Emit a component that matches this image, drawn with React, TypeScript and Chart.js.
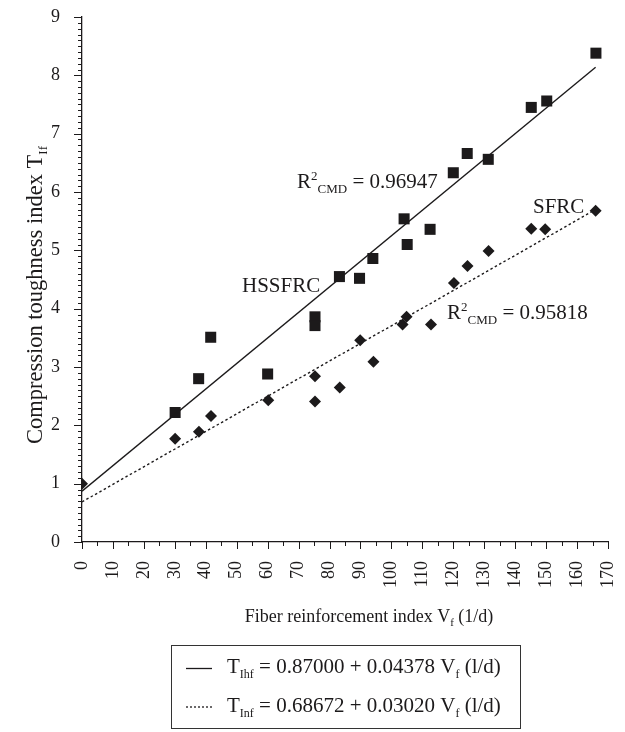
import React, { useEffect, useRef } from "react";
import { Chart, registerables } from "chart.js";

Chart.register(...registerables);

// HSSFRC (squares)
const hssX = [30.1, 37.7, 41.6, 60.0, 75.3, 75.3, 83.2, 89.7, 94.0, 104.1, 105.1, 112.5, 120.0, 124.5, 131.3, 145.2, 150.2, 166.1];
const hssY = [2.22, 2.80, 3.51, 2.88, 3.86, 3.71, 4.55, 4.52, 4.86, 5.54, 5.10, 5.36, 6.33, 6.66, 6.56, 7.45, 7.56, 8.38];
// SFRC (diamonds)
const sfrcX = [0, 30.1, 37.8, 41.7, 60.2, 75.3, 75.3, 83.3, 89.9, 94.2, 103.6, 104.9, 112.8, 120.2, 124.6, 131.4, 145.2, 149.7, 166.0];
const sfrcY = [1.0, 1.77, 1.89, 2.16, 2.43, 2.84, 2.41, 2.65, 3.46, 3.09, 3.73, 3.86, 3.73, 4.44, 4.73, 4.99, 5.37, 5.36, 5.68];
// regression lines: [intercept, slope]
const fitX = [0, 166];
const hssCoef = [0.87, 0.04378];
const sfrcCoef = [0.68672, 0.0302];

const xTicks = [0, 10, 20, 30, 40, 50, 60, 70, 80, 90, 100, 110, 120, 130, 140, 150, 160, 170];
const yTicks = [0, 1, 2, 3, 4, 5, 6, 7, 8, 9];

const INK = "#1c1a1b";
const SERIF = '"Liberation Serif", "Times New Roman", serif';

type Part = [string, number, number];

function richWidth(ctx: CanvasRenderingContext2D, parts: Part[]) {
  let w = 0;
  for (const [t, s] of parts) {
    ctx.font = `${s}px ${SERIF}`;
    w += ctx.measureText(t).width;
  }
  return w;
}

function drawRich(ctx: CanvasRenderingContext2D, x: number, y: number, parts: Part[]) {
  let cx = x;
  ctx.textBaseline = "alphabetic";
  ctx.textAlign = "left";
  for (const [t, s, dy] of parts) {
    ctx.font = `${s}px ${SERIF}`;
    ctx.fillText(t, cx, y + dy);
    cx += ctx.measureText(t).width;
  }
}

const decorPlugin = {
  id: "decor",
  afterDraw(chart: any) {
    const ctx: CanvasRenderingContext2D = chart.ctx;
    const xs = chart.scales.x;
    const ys = chart.scales.y;
    const { left, bottom } = chart.chartArea;
    ctx.save();
    ctx.strokeStyle = INK;
    ctx.fillStyle = INK;
    ctx.lineWidth = 1;
    // x ticks
    for (let v = 0; v <= 170; v += 5) {
      const px = Math.round(xs.getPixelForValue(v)) + 0.5;
      const len = v % 10 === 0 ? 7 : 4;
      ctx.beginPath();
      ctx.moveTo(px, bottom);
      ctx.lineTo(px, bottom + len);
      ctx.stroke();
    }
    // y ticks
    for (let i = 0; i <= 90; i++) {
      const py = Math.round(ys.getPixelForValue(i / 10)) + 0.5;
      const len = i % 10 === 0 ? 8 : 4;
      ctx.beginPath();
      ctx.moveTo(left - len, py);
      ctx.lineTo(left, py);
      ctx.stroke();
    }

    // annotations
    drawRich(ctx, 242, 292, [["HSSFRC", 21, 0]]);
    drawRich(ctx, 533, 213, [["SFRC", 21, 0]]);
    drawRich(ctx, 297, 187.5, [["R", 21, 0], ["2", 13, -8], ["CMD", 13, 5], [" = 0.96947", 21, 0]]);
    drawRich(ctx, 447, 318.5, [["R", 21, 0], ["2", 13, -8], ["CMD", 13, 5], [" = 0.95818", 21, 0]]);

    // x title
    const xt: Part[] = [["Fiber reinforcement index V", 18, 0], ["f", 11, 4], [" (1/d)", 18, 0]];
    const xw = richWidth(ctx, xt);
    drawRich(ctx, 369 - xw / 2, 622, xt);

    // y title
    const yt: Part[] = [["Compression toughness index T", 22.5, 0], ["If", 13, 5]];
    const yw = richWidth(ctx, yt);
    ctx.save();
    ctx.translate(42, 295);
    ctx.rotate(-Math.PI / 2);
    drawRich(ctx, -yw / 2, 0, yt);
    ctx.restore();

    // legend box
    ctx.lineWidth = 1;
    ctx.strokeStyle = "#333";
    ctx.strokeRect(171.5, 645.5, 349, 83);
    ctx.strokeStyle = INK;
    ctx.lineWidth = 1.3;
    ctx.beginPath();
    ctx.moveTo(186, 668.5);
    ctx.lineTo(212, 668.5);
    ctx.stroke();
    ctx.setLineDash([2, 2]);
    ctx.beginPath();
    ctx.moveTo(186, 707);
    ctx.lineTo(212, 707);
    ctx.stroke();
    ctx.setLineDash([]);
    drawRich(ctx, 227, 673, [["T", 21, 0], ["Ihf", 12, 5], [" = 0.87000 + 0.04378 V", 21, 0], ["f", 12, 5], [" (l/d)", 21, 0]]);
    drawRich(ctx, 227, 712, [["T", 21, 0], ["Inf", 12, 5], [" = 0.68672 + 0.03020 V", 21, 0], ["f", 12, 5], [" (l/d)", 21, 0]]);
    ctx.restore();
  },
};

export default function App() {
  const ref = useRef<HTMLCanvasElement | null>(null);
  useEffect(() => {
    if (!ref.current) return;
    const hssPts = hssX.map((x, i) => ({ x, y: hssY[i] }));
    const sfrcPts = sfrcX.map((x, i) => ({ x, y: sfrcY[i] }));
    const hssLine = fitX.map((x) => ({ x, y: hssCoef[0] + hssCoef[1] * x }));
    const sfrcLine = fitX.map((x) => ({ x, y: sfrcCoef[0] + sfrcCoef[1] * x }));
    const chart = new Chart(ref.current, {
      type: "scatter",
      data: {
        datasets: [
          {
            label: "HSSFRC fit",
            data: hssLine,
            showLine: true,
            borderColor: INK,
            borderWidth: 1.4,
            pointRadius: 0,
            fill: false,
          },
          {
            label: "SFRC fit",
            data: sfrcLine,
            showLine: true,
            borderColor: INK,
            borderWidth: 1.4,
            borderDash: [2.5, 2.5],
            pointRadius: 0,
            fill: false,
          },
          {
            label: "HSSFRC",
            data: hssPts,
            pointStyle: "rect",
            pointRadius: 7.8,
            backgroundColor: INK,
            borderColor: INK,
            borderWidth: 0,
          },
          {
            label: "SFRC",
            data: sfrcPts,
            pointStyle: "rectRot",
            pointRadius: 6,
            backgroundColor: INK,
            borderColor: INK,
            borderWidth: 0,
          },
        ],
      },
      options: {
        responsive: false,
        animation: false,
        layout: { padding: { top: 17, right: 17, left: 0, bottom: 0 } },
        plugins: { legend: { display: false }, tooltip: { enabled: false } },
        scales: {
          x: {
            type: "linear",
            min: 0,
            max: 170,
            afterBuildTicks: (s: any) => {
              s.ticks = xTicks.map((v) => ({ value: v }));
            },
            afterFit: (s: any) => {
              s.height = 190;
              s.paddingLeft = 0;
              s.paddingRight = 0;
            },
            ticks: {
              autoSkip: false,
              minRotation: 90,
              maxRotation: 90,
              padding: 11,
              color: INK,
              font: { family: SERIF, size: 18 },
            },
            grid: { display: false },
            border: { display: true, color: INK, width: 1.3 },
          },
          y: {
            type: "linear",
            min: 0,
            max: 9,
            afterBuildTicks: (s: any) => {
              s.ticks = yTicks.map((v) => ({ value: v }));
            },
            afterFit: (s: any) => {
              s.width = 82;
              s.paddingTop = 0;
              s.paddingBottom = 0;
            },
            ticks: {
              autoSkip: false,
              padding: 14,
              color: INK,
              font: { family: SERIF, size: 18 },
            },
            grid: { display: false },
            border: { display: true, color: INK, width: 1.3 },
          },
        },
      },
      plugins: [decorPlugin],
    });
    return () => chart.destroy();
  }, []);
  return (
    <div style={{ position: "absolute", left: 0, top: 0, width: 625, height: 732, background: "#fff" }}>
      <canvas ref={ref} width={625} height={732} style={{ display: "block" }} />
    </div>
  );
}
